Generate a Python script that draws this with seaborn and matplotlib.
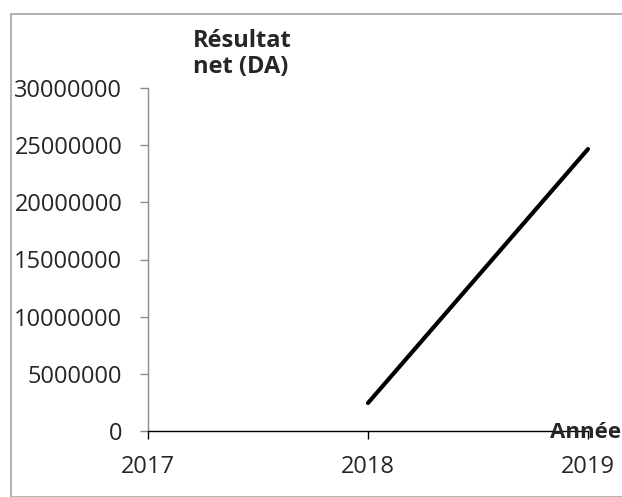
import numpy as np
import pandas as pd
import seaborn as sb
import matplotlib.pyplot as plt
from matplotlib.patches import Rectangle

# values (2017 has no value)
years = [2017, 2018, 2019]
resultat_net = [np.nan, 2450000, 24660000]
y_ticks = [0, 5000000, 10000000, 15000000, 20000000, 25000000, 30000000]

df = pd.DataFrame({"annee": years, "resultat": resultat_net})

sb.set_style("white")
plt.rcParams["font.family"] = ["Open Sans", "DejaVu Sans"]

W, H = 622, 497
fig = plt.figure(figsize=(W / 100, H / 100), dpi=100)
ax = fig.add_axes([148 / W, (H - 431) / H, (588 - 148) / W, (431 - 88) / H])

sb.lineplot(data=df, x="annee", y="resultat", color="black", linewidth=3,
            solid_capstyle="round", clip_on=False, ax=ax)

ax.set_xlim(2017, 2019)
ax.set_ylim(0, 30000000)
ax.set_xticks(years)
ax.set_xticklabels([str(y) for y in years])
ax.set_yticks(y_ticks)
ax.set_yticklabels([str(v) for v in y_ticks])
ax.set_xlabel("")
ax.set_ylabel("")

for side in ["top", "right"]:
    ax.spines[side].set_visible(False)
ax.spines["left"].set_color("#8c8c8c")
ax.spines["left"].set_linewidth(1)
ax.spines["bottom"].set_color("black")
ax.spines["bottom"].set_linewidth(1)

ax.tick_params(axis="y", direction="out", length=5.5, width=1, color="#8c8c8c",
               labelsize=17, pad=13, left=True)
ax.tick_params(axis="x", direction="out", length=6, width=1, color="black",
               labelsize=17, pad=11, bottom=True)

fig.text(193 / W, 1 - 29 / H, "Résultat\nnet (DA)", fontsize=17, fontweight="bold",
         ha="left", va="top", linespacing=1.1)
fig.text(621 / W, 1 - 438 / H, "Année", fontsize=16, fontweight="bold",
         ha="right", va="baseline")

fig.patches.append(Rectangle((11 / W, 0), 1.0, 1 - 14 / H, transform=fig.transFigure,
                             fill=False, edgecolor="#a6a6a6", linewidth=1.2))

plt.savefig("out.png", dpi=100)
